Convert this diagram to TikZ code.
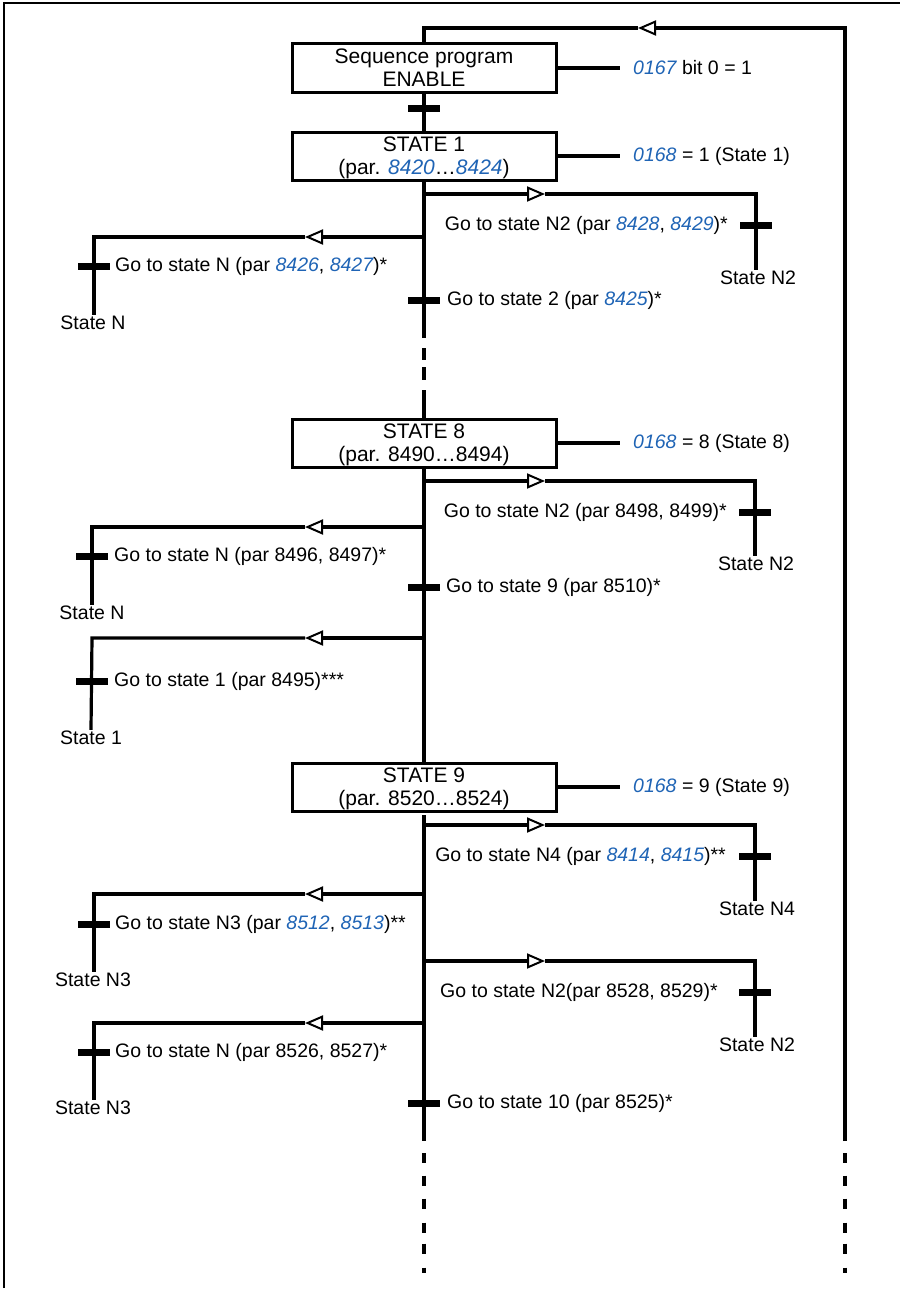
\documentclass[tikz,border=0pt]{standalone}
\usepackage{fontspec}
\setmainfont{Liberation Sans}
\usetikzlibrary{arrows.meta}
\definecolor{pblue}{HTML}{1F64B5}
\newcommand{\pn}[1]{\textcolor{pblue}{\itshape #1}}
\begin{document}
\begin{tikzpicture}[x=1pt,y=-1pt,
  every node/.style={font=\fontsize{19.5}{22}\selectfont},
  ln/.style={line width=3.2pt},
  statebox/.style={draw, line width=3pt, minimum width=264pt, minimum height=48pt, inner sep=0pt, align=center, font=\fontsize{21}{23}\selectfont, text depth=0pt},
  bar/.style={fill=black, minimum width=32pt, minimum height=7pt, inner sep=0pt},
  lab/.style={inner sep=0pt, anchor=west},
  rlab/.style={inner sep=0pt, anchor=east},
  slab/.style={inner sep=0pt, text height=14pt, text depth=0pt},
  side/.style={inner ysep=0pt, inner xsep=13pt, anchor=west},
  tri/.style={-{Triangle[open, length=18pt, width=15pt, line width=2pt]}},
  dsh/.style={dash pattern=on 0pt off 12pt on 10pt off 12.5pt on 10pt off 13pt on 10pt off 14pt on 10pt off 11pt on 10pt off 14pt on 10pt},
  dshb/.style={dash pattern=on 0pt off 10pt on 12pt off 7pt on 13pt off 10pt},
]
\useasboundingbox (0,0) rectangle (900,1290);
% frame
\draw[line width=1.5pt] (4,1288) -- (4,3) -- (900,3);

% boxes
\node[statebox] (en) at (424,68) {Sequence program\\ENABLE};
\node[statebox] (s1) at (424,156) {STATE 1\\(par. \pn{8420}…\pn{8424})};
\node[statebox] (s8) at (424,443) {STATE 8\\(par. 8490…8494)};
\node[statebox] (s9) at (424,787) {STATE 9\\(par. 8520…8524)};

% side labels
\node[side] (l0) at (620,68) {\pn{0167} bit 0 = 1};
\node[side] (l1) at (620,156) {\pn{0168} = 1 (State 1)};
\node[side] (l8) at (620,443) {\pn{0168} = 8 (State 8)};
\node[side] (l9) at (620,787) {\pn{0168} = 9 (State 9)};
\draw[ln] (en.east) -- (l0.west);
\draw[ln] (s1.east) -- (l1.west);
\draw[ln] (s8.east) -- (l8.west);
\draw[ln] (s9.east) -- (l9.west);

% loop back line
\coordinate (lt) at (424,28);
\coordinate (rt) at (845,28);
\coordinate (la) at (638,28);
\coordinate (rb) at (845,1141);
\coordinate (rd1) at (845,1141);
\coordinate (rd2) at (845,1273);
\draw[ln,tri] (rb) -- (rt) -- (la);
\draw[ln] (la) -- (lt) -- (en.north);
\draw[ln,dsh] (rd1) -- (rd2);

% enable -> state 1
\node[bar] (t0) at (424,108) {};
\draw[ln] (en.south) -- (s1.north);

% ---------- STATE 1 ----------
\coordinate (j1r) at (424,194);
\coordinate (a1r) at (545,194);
\coordinate (c1r) at (756,194);
\node[bar] (b1r) at (756,225) {};
\node[rlab] (g1r) at (728,225) {Go to state N2 (par \pn{8428}, \pn{8429})*};
\node[slab] (n1r) at (758,277) {State N2};
\draw[ln,tri] (j1r) -- (a1r);
\draw[ln] (a1r) -- (c1r) -- (c1r |- n1r.north);

\coordinate (j1l) at (424,237);
\coordinate (a1l) at (305,237);
\coordinate (c1l) at (94,237);
\node[bar] (b1l) at (94,266) {};
\node[lab] (g1l) at (115,266) {Go to state N (par \pn{8426}, \pn{8427})*};
\node[slab] (n1l) at (93,322) {State N};
\draw[ln,tri] (j1l) -- (a1l);
\draw[ln] (a1l) -- (c1l) -- (c1l |- n1l.north);

\node[bar] (b1m) at (424,300) {};
\node[lab] (g1m) at (447,300) {Go to state 2 (par \pn{8425})*};
\coordinate (m1a) at (424,338);
\coordinate (m1b) at (424,390);
\draw[ln] (s1.south) -- (m1a);
\draw[ln,dshb] (m1a) -- (m1b);
\draw[ln] (m1b) -- (s8.north);

% ---------- STATE 8 ----------
\coordinate (j8r) at (424,481);
\coordinate (a8r) at (545,481);
\coordinate (c8r) at (755,481);
\node[bar] (b8r) at (755,512) {};
\node[rlab] (g8r) at (727,512) {Go to state N2 (par 8498, 8499)*};
\node[slab] (n8r) at (756,563) {State N2};
\draw[ln,tri] (j8r) -- (a8r);
\draw[ln] (a8r) -- (c8r) -- (c8r |- n8r.north);

\coordinate (j8l) at (424,527);
\coordinate (a8l) at (305,527);
\coordinate (c8l) at (92,527);
\node[bar] (b8l) at (92,556) {};
\node[lab] (g8l) at (114,556) {Go to state N (par 8496, 8497)*};
\node[slab] (n8l) at (92,612) {State N};
\draw[ln,tri] (j8l) -- (a8l);
\draw[ln] (a8l) -- (c8l) -- (c8l |- n8l.north);

\node[bar] (b8m) at (424,587) {};
\node[lab] (g8m) at (446,587) {Go to state 9 (par 8510)*};

\coordinate (j8l2) at (424,638);
\coordinate (a8l2) at (305,638);
\coordinate (c8l2) at (92,638);
\node[bar] (b8l2) at (92,681) {};
\node[lab] (g8l2) at (114,681) {Go to state 1 (par 8495)***};
\node[slab] (n8l2) at (91,737) {State 1};
\draw[ln,tri] (j8l2) -- (a8l2);
\draw[ln] (a8l2) -- (c8l2) -- (n8l2.north);

\draw[ln] (s8.south) -- (s9.north);

% ---------- STATE 9 ----------
\coordinate (m9) at (424,815);
\coordinate (m9e) at (424,1141);
\coordinate (m9d1) at (424,1141);
\coordinate (m9d2) at (424,1273);
\draw[ln] (m9) -- (m9e);
\draw[ln,dsh] (m9d1) -- (m9d2);

\coordinate (j9r) at (424,825);
\coordinate (a9r) at (545,825);
\coordinate (c9r) at (755,825);
\node[bar] (b9r) at (755,856) {};
\node[rlab] (g9r) at (726,856) {Go to state N4 (par \pn{8414}, \pn{8415})**};
\node[slab] (n9r) at (757,908) {State N4};
\draw[ln,tri] (j9r) -- (a9r);
\draw[ln] (a9r) -- (c9r) -- (c9r |- n9r.north);

\coordinate (j9l) at (424,894);
\coordinate (a9l) at (305,894);
\coordinate (c9l) at (94,894);
\node[bar] (b9l) at (94,924) {};
\node[lab] (g9l) at (115,924) {Go to state N3 (par \pn{8512}, \pn{8513})**};
\node[slab] (n9l) at (93,979) {State N3};
\draw[ln,tri] (j9l) -- (a9l);
\draw[ln] (a9l) -- (c9l) -- (c9l |- n9l.north);

\coordinate (j9r2) at (424,961);
\coordinate (a9r2) at (545,961);
\coordinate (c9r2) at (755,961);
\node[bar] (b9r2) at (755,992) {};
\node[lab] (g9r2) at (440,992) {Go to state N2(par 8528, 8529)*};
\node[slab] (n9r2) at (757,1044) {State N2};
\draw[ln,tri] (j9r2) -- (a9r2);
\draw[ln] (a9r2) -- (c9r2) -- (c9r2 |- n9r2.north);

\coordinate (j9l2) at (424,1023);
\coordinate (a9l2) at (305,1023);
\coordinate (c9l2) at (94,1023);
\node[bar] (b9l2) at (94,1052) {};
\node[lab] (g9l2) at (115,1052) {Go to state N (par 8526, 8527)*};
\node[slab] (n9l2) at (93,1107) {State N3};
\draw[ln,tri] (j9l2) -- (a9l2);
\draw[ln] (a9l2) -- (c9l2) -- (c9l2 |- n9l2.north);

\node[bar] (b9m) at (424,1103) {};
\node[lab] (g9m) at (447,1103) {Go to state 10 (par 8525)*};
\end{tikzpicture}
\end{document}
